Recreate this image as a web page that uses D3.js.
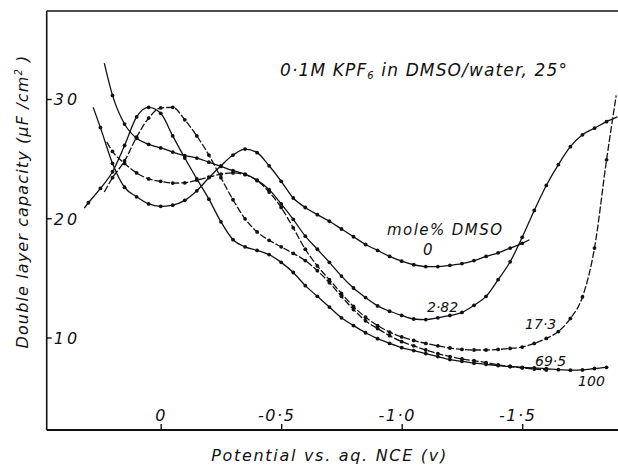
<!DOCTYPE html>
<html>
<head>
<meta charset="utf-8">
<script src="https://cdn.jsdelivr.net/npm/d3@7"></script>
<style>
  body { margin: 0; background: #fff; }
  svg text { font-family: 'DejaVu Sans', sans-serif; font-style: italic; fill: #111; }
</style>
</head>
<body>
<script>
// potentials (V vs aq. NCE) and capacities (uF/cm2)
const pot0 = [0.28, 0.25, 0.2, 0.15, 0.1, 0.05, 0, -0.05, -0.1, -0.15, -0.2, -0.25, -0.3, -0.35, -0.4, -0.45, -0.5, -0.55, -0.6, -0.65, -0.7, -0.75, -0.8, -0.85, -0.9, -0.95, -1, -1.05, -1.1, -1.15, -1.2, -1.25, -1.3, -1.35, -1.4, -1.45, -1.5, -1.53];
const cap0 = [29.3, 27.6, 24.6, 22.6, 21.8, 21.2, 21.0, 21.1, 21.5, 22.3, 23.4, 24.4, 25.3, 25.8, 25.5, 24.4, 23.1, 21.7, 20.9, 20.3, 19.75, 19.1, 18.45, 17.8, 17.3, 16.8, 16.4, 16.1, 15.95, 15.95, 16.05, 16.2, 16.45, 16.8, 17.1, 17.5, 17.9, 18.2];

const pot282 = [0.234, 0.2, 0.15, 0.1, 0.05, 0, -0.05, -0.1, -0.15, -0.2, -0.25, -0.3, -0.35, -0.4, -0.45, -0.5, -0.55, -0.6, -0.65, -0.7, -0.75, -0.8, -0.85, -0.9, -0.95, -1, -1.05, -1.1, -1.15, -1.2, -1.25, -1.3, -1.35, -1.4, -1.45, -1.5, -1.55, -1.6, -1.65, -1.7, -1.75, -1.8, -1.85, -1.895];
const cap282 = [33.0, 30.3, 27.9, 26.7, 26.2, 25.9, 25.55, 25.25, 25.05, 24.7, 24.35, 24.0, 23.7, 23.2, 22.4, 21.2, 19.9, 18.5, 17.4, 16.3, 15.15, 14.15, 13.35, 12.65, 12.2, 11.85, 11.55, 11.5, 11.65, 11.85, 12.1, 12.7, 13.45, 14.85, 16.35, 18.4, 20.65, 22.75, 24.5, 26.0, 27.0, 27.55, 28.1, 28.5];

const pot173 = [0.224, 0.2, 0.15, 0.1, 0.05, 0, -0.05, -0.1, -0.15, -0.2, -0.25, -0.3, -0.35, -0.4, -0.45, -0.5, -0.55, -0.6, -0.65, -0.7, -0.75, -0.8, -0.85, -0.9, -0.95, -1, -1.05, -1.1, -1.15, -1.2, -1.25, -1.3, -1.35, -1.4, -1.45, -1.5, -1.55, -1.6, -1.65, -1.7, -1.75, -1.8, -1.85, -1.89];
const cap173 = [26.4, 25.6, 24.6, 23.8, 23.3, 23.1, 22.95, 22.97, 23.2, 23.45, 23.7, 23.8, 23.65, 23.15, 22.2, 20.9, 19.2, 17.4, 16.0, 14.85, 13.7, 12.6, 11.7, 11.0, 10.45, 10.05, 9.75, 9.5, 9.3, 9.12, 9.0, 8.95, 8.95, 9.0, 9.08, 9.2, 9.5, 9.92, 10.5, 11.6, 13.4, 17.5, 24.9, 30.3];

const pot695 = [0.234, 0.2, 0.15, 0.1, 0.05, 0, -0.05, -0.1, -0.15, -0.2, -0.25, -0.3, -0.35, -0.4, -0.45, -0.5, -0.55, -0.6, -0.65, -0.7, -0.75, -0.8, -0.85, -0.9, -0.95, -1, -1.05, -1.1, -1.15, -1.2, -1.25, -1.3, -1.35, -1.4, -1.45, -1.5, -1.55, -1.6];
const cap695 = [22.2, 23.4, 24.8, 26.8, 28.4, 29.25, 29.3, 28.25, 26.9, 25.3, 23.4, 21.55, 19.95, 18.85, 18.15, 17.6, 17.05, 16.45, 15.6, 14.6, 13.45, 12.35, 11.4, 10.75, 10.15, 9.65, 9.3, 8.95, 8.65, 8.4, 8.2, 8.05, 7.9, 7.7, 7.57, 7.45, 7.36, 7.28];

const pot100 = [0.317, 0.3, 0.25, 0.2, 0.15, 0.1, 0.05, 0, -0.05, -0.1, -0.15, -0.2, -0.25, -0.3, -0.35, -0.4, -0.45, -0.5, -0.55, -0.6, -0.65, -0.7, -0.75, -0.8, -0.85, -0.9, -0.95, -1, -1.05, -1.1, -1.15, -1.2, -1.25, -1.3, -1.35, -1.4, -1.45, -1.5, -1.55, -1.6, -1.65, -1.7, -1.75, -1.8, -1.85];
const cap100 = [20.85, 21.3, 22.5, 23.9, 26.1, 28.5, 29.3, 28.8, 26.9, 25.05, 23.3, 21.6, 19.7, 18.2, 17.6, 17.3, 16.95, 16.3, 15.45, 14.35, 13.45, 12.55, 11.65, 11.0, 10.4, 9.9, 9.5, 9.15, 8.9, 8.65, 8.4, 8.15, 8.0, 7.85, 7.75, 7.65, 7.57, 7.5, 7.45, 7.38, 7.3, 7.26, 7.28, 7.4, 7.5];

const xTicks = [0, -0.5, -1.0, -1.5];
const yTicks = [10, 20, 30];

const series = [
  { name: '0', pot: pot0, cap: cap0, dash: null },
  { name: '2·82', pot: pot282, cap: cap282, dash: null },
  { name: '17·3', pot: pot173, cap: cap173, dash: '7,2' },
  { name: '69·5', pot: pot695, cap: cap695, dash: '7,2' },
  { name: '100', pot: pot100, cap: cap100, dash: null },
];

// curve labels, anchored in data space
const labels = [
  { text: 'mole% DMSO', v: -0.939, c: 18.6, w: 115, size: 15 },
  { text: '0', v: -1.088, c: 16.92, size: 15 },
  { text: '2·82', v: -1.105, c: 12.14, size: 14 },
  { text: '17·3', v: -1.512, c: 10.71, size: 14 },
  { text: '69·5', v: -1.553, c: 7.61, size: 14 },
  { text: '100', v: -1.732, c: 5.93, size: 14 },
];

const width = 618, height = 465;
const plotLeft = 46.7, plotRight = 618, plotTop = 11, plotBottom = 430;

const svg = d3.select('body').append('svg')
  .attr('width', width)
  .attr('height', height);

const x = d3.scaleLinear().domain([0, -1.5]).range([160.7, 522.2]);
const y = d3.scaleLinear().domain([10, 30]).range([337.5, 99]);

// stretch letter spacing so a text fills a given width
function fitWidth(sel, target) {
  const node = sel.node();
  const len = node.getComputedTextLength();
  const n = node.textContent.length;
  if (n > 1) sel.attr('letter-spacing', ((target - len) / (n - 1)).toFixed(2));
}

// frame: left, top and bottom lines
svg.append('line').attr('x1', plotLeft).attr('x2', plotLeft).attr('y1', plotTop).attr('y2', plotBottom)
  .attr('stroke', '#111').attr('stroke-width', 1.6);
svg.append('line').attr('x1', plotLeft).attr('x2', plotRight).attr('y1', plotTop).attr('y2', plotTop)
  .attr('stroke', '#111').attr('stroke-width', 1.4);
svg.append('line').attr('x1', plotLeft).attr('x2', plotRight).attr('y1', plotBottom).attr('y2', plotBottom)
  .attr('stroke', '#111').attr('stroke-width', 2);

// x axis: ticks pointing up, labels inside the plot
const xAxis = svg.append('g')
  .attr('transform', `translate(0,${plotBottom})`)
  .call(d3.axisBottom(x).tickValues(xTicks).tickSize(-6).tickSizeOuter(0)
    .tickFormat(d => d === 0 ? '0' : '-' + d3.format('.1f')(-d).replace('.', '·')));
xAxis.select('.domain').remove();
xAxis.selectAll('.tick line').attr('stroke', '#111').attr('stroke-width', 1.4);
xAxis.selectAll('.tick text')
  .attr('y', -9).attr('dy', 0)
  .attr('dx', d => d === 0 ? 0 : -5)
  .attr('letter-spacing', 1.5)
  .style('font-family', "'DejaVu Sans', sans-serif")
  .style('font-size', '16px').style('font-style', 'italic').attr('fill', '#111');

// y axis: ticks pointing right, labels inside the plot
const yAxis = svg.append('g')
  .attr('transform', `translate(${plotLeft},0)`)
  .call(d3.axisLeft(y).tickValues(yTicks).tickSize(-5).tickSizeOuter(0));
yAxis.select('.domain').remove();
yAxis.selectAll('.tick line').attr('stroke', '#111').attr('stroke-width', 1.4);
yAxis.selectAll('.tick text')
  .attr('x', 7).attr('text-anchor', 'start').attr('dy', '0.36em')
  .attr('letter-spacing', 3)
  .style('font-family', "'DejaVu Sans', sans-serif")
  .style('font-size', '16px').style('font-style', 'italic').attr('fill', '#111');

// curves
const line = d3.line()
  .x(d => x(d.v))
  .y(d => y(d.c))
  .curve(d3.curveMonotoneX);

const onGrid = v => Math.abs(v * 20 - Math.round(v * 20)) < 1e-6;

series.forEach(s => {
  const pts = s.pot.map((v, i) => ({ v: v, c: s.cap[i] }));
  svg.append('path')
    .datum(pts)
    .attr('d', line)
    .attr('fill', 'none')
    .attr('stroke', '#111')
    .attr('stroke-width', 1.3)
    .attr('stroke-dasharray', s.dash);
  svg.append('g')
    .selectAll('circle')
    .data(pts.filter(d => onGrid(d.v)))
    .join('circle')
    .attr('cx', d => x(d.v))
    .attr('cy', d => y(d.c))
    .attr('r', 1.9)
    .attr('fill', '#111');
});

// curve labels
labels.forEach(l => {
  const t = svg.append('text')
    .attr('x', x(l.v))
    .attr('y', y(l.c))
    .style('font-size', l.size + 'px')
    .text(l.text);
  if (l.w) fitWidth(t, l.w);
});

// title
const title = svg.append('text')
  .attr('x', 280)
  .attr('y', 76)
  .style('font-size', '17px');
title.append('tspan').text('0·1M KPF');
title.append('tspan').attr('dy', 3).style('font-size', '10px').text('6');
title.append('tspan').attr('dy', -3).text(' in DMSO/water, 25°');
fitWidth(title, 287);

// axis titles
const xTitle = svg.append('text')
  .attr('x', 329.5)
  .attr('y', 461)
  .attr('text-anchor', 'middle')
  .style('font-size', '16px')
  .text('Potential vs. aq. NCE (v)');
fitWidth(xTitle, 235);

const yTitle = svg.append('text')
  .attr('transform', 'translate(28,201.5) rotate(-90)')
  .attr('text-anchor', 'middle')
  .style('font-size', '16px');
yTitle.append('tspan').text('Double layer capacity (μF /cm');
yTitle.append('tspan').attr('dy', -6).style('font-size', '10px').text('2');
yTitle.append('tspan').attr('dy', 6).text(' )');
fitWidth(yTitle, 293);
</script>
</body>
</html>
